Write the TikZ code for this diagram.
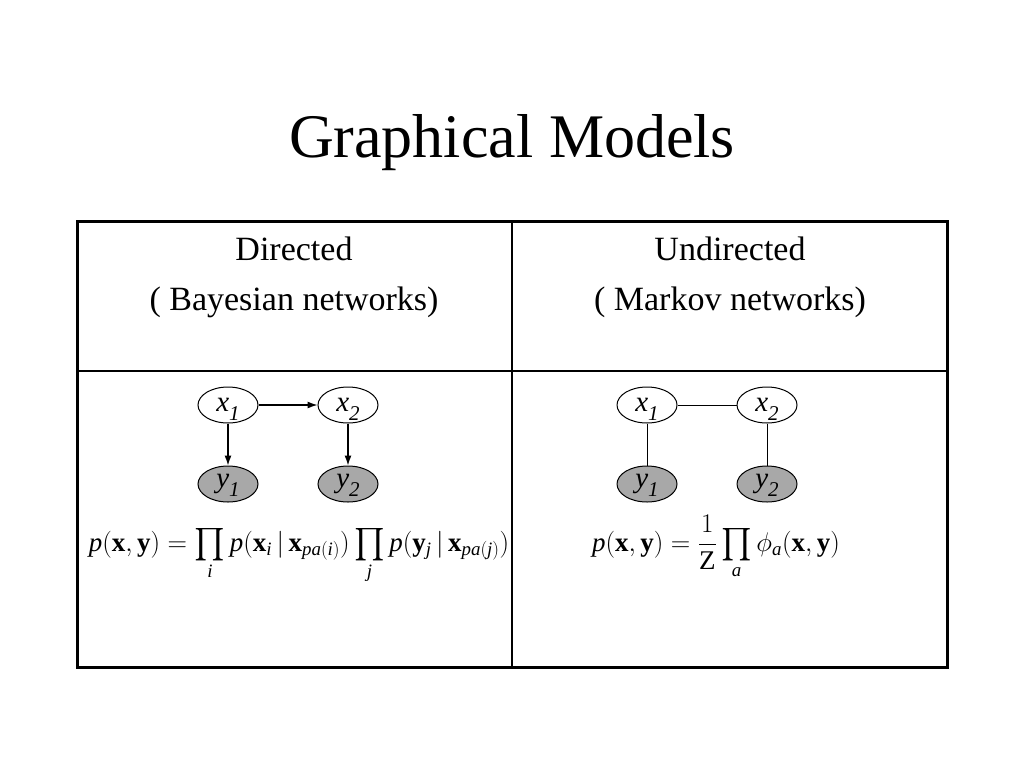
\documentclass[tikz,border=0pt]{standalone}
\usepackage{fix-cm}
\usepackage{amsmath,amsfonts, amssymb}
\usepackage{fontspec}
\setmainfont{Liberation Serif}
\usepackage{tikz}
\usetikzlibrary{shapes, arrows.meta}
\newcommand{\xb}{\mathbf{x}}
\newcommand{\yb}{\mathbf{y}}
\newcommand{\iv}[1]{\mathit{#1}}
\newcommand{\bigprod}{\mathop{\vcenter{\hbox{\scalebox{1.2}{$\prod$}}}}\limits}
\newcommand{\nodevar}[2]{\textit{#1}\raisebox{-0.32em}[0pt][0pt]{\fontsize{21}{21}\selectfont\textit{#2}}}
\tikzstyle{title} =
        [
                anchor = base,
                font = \fontsize{62}{70}\selectfont
        ]
\tikzstyle{head} =
        [
                anchor = base,
                font = \fontsize{34}{40}\selectfont
        ]
\tikzstyle{formula} =
        [
                anchor = base,
                inner sep = 0pt,
                font = \fontsize{27}{30}\selectfont
        ]
\tikzstyle{hidden} =
        [
                ellipse,
                draw,
                line width = 1pt,
                minimum width = 60pt,
                minimum height = 36pt,
                inner sep = 0pt,
                font = \fontsize{29}{33}\selectfont
        ]
\tikzstyle{observed} =
        [
                hidden,
                fill = gray!68
        ]
\tikzstyle{line} =
        [
                draw,
                line width = 1.2pt,
                -{Latex[length = 10pt, width = 7pt]}
        ]
\tikzstyle{edge} =
        [
                draw,
                line width = 1pt
        ]
\tikzstyle{frame} =
        [
                draw,
                line width = 3pt
        ]
\tikzstyle{rule} =
        [
                draw,
                line width = 1.4pt
        ]

\begin{document}
\begin{tikzpicture}[x = 1pt, y = -1pt, node distance = 120pt, auto]
        \useasboundingbox (0,0) rectangle (1024,768);
        \node [title] (title) at (512,157) {Graphical Models};
        % table
        \path [rule] (512,221) -- (512,667);
        \path [rule] (77,371) -- (947,371);
        \path [frame] (77,221) rectangle (947,667);
        \node [head] (dirhead) at (294,260) {Directed};
        \node [head] (dirsub) at (294,310) {( Bayesian networks)};
        \node [head] (undhead) at (730,260) {Undirected};
        \node [head] (undsub) at (730,310) {( Markov networks)};
        % directed model
        \node [hidden] (dx1) at (228,405) {\nodevar{x}{1}};
        \node [hidden, right of = dx1] (dx2) {\nodevar{x}{2}};
        \node [observed, below of = dx1, node distance = 79pt] (dy1) {\nodevar{y}{1}};
        \node [observed, below of = dx2, node distance = 79pt] (dy2) {\nodevar{y}{2}};
        \path [line] (dx1) -- (dx2);
        \path [line] (dx1) -- (dy1);
        \path [line] (dx2) -- (dy2);
        \node [formula] (dirjoint) at (299,551) {$\iv{p}(\xb,\yb) = \bigprod_{\iv{i}} \iv{p}(\xb_{\iv{i}} \,|\, \xb_{\iv{pa}(\iv{i})}) \bigprod_{\iv{j}} \iv{p}(\yb_{\iv{j}} \,|\, \xb_{\iv{pa}(\iv{j})})$};
        % undirected model
        \node [hidden] (ux1) at (647,405) {\nodevar{x}{1}};
        \node [hidden, right of = ux1] (ux2) {\nodevar{x}{2}};
        \node [observed, below of = ux1, node distance = 79pt] (uy1) {\nodevar{y}{1}};
        \node [observed, below of = ux2, node distance = 79pt] (uy2) {\nodevar{y}{2}};
        \path [edge] (ux1) -- (ux2);
        \path [edge] (ux1) -- (uy1);
        \path [edge] (ux2) -- (uy2);
        \node [formula] (undjoint) at (716,551) {$\iv{p}(\xb,\yb) = \dfrac{1}{\mathrm{Z}} \bigprod_{\iv{a}} \phi_{\iv{a}}(\xb,\yb)$};
\end{tikzpicture}
\end{document}
